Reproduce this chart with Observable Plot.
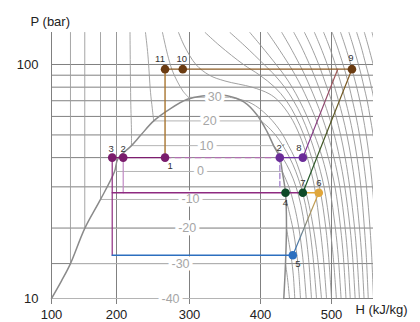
<!DOCTYPE html>
<html><head><meta charset="utf-8">
<script src="https://cdn.jsdelivr.net/npm/d3@7"></script>
<script src="https://cdn.jsdelivr.net/npm/@observablehq/plot@0.6"></script>
<style>
body{margin:0;background:#fff;}
#chart svg{display:block;}
#chart g[aria-label^="x-axis"] line, #chart g[aria-label^="x-axis"] path{stroke:#808080;}
</style></head><body><div id="chart"></div>
<script>
// ---- axes ----
const hTicks = [100, 200, 300, 400, 500];
const pTicks = [10, 100];
const hGrid = [100, 200, 300, 400, 500];
const pGrid = [10, 14.1, 20, 30, 40, 50, 60, 70, 80, 90, 100];

// ---- saturation dome [h, P] ----
const dome = [[100,10],[115.4,11.9],[129.2,14.1],[151.2,19.93],[175.4,26.5],[197,34.9],[202,39.6],[220.5,45],[233,49.8],[251,57.4],[274,64.8],[297,71],[318,73.4],[335,73.9],[353,73.6],[376.5,69.2],[395.4,60.7],[409.4,51.5],[418.5,45],[427.2,40],[430.6,34.9],[435.2,28.3],[436.6,20.5],[435.2,14.1],[432.8,10]];

// ---- two-phase isotherm segments ----
const tpTemp = ["30","20","10","0","-10","-20","-30","-40"];
const tpP    = [72.4, 57.4, 45, 34.9, 26.5, 19.93, 14.1, 10];
const tpHL   = [298.6, 251, 220.5, 200, 175.4, 151.2, 129.2, 100];
const tpHV   = [357, 400, 418.5, 430.6, 436, 436.6, 435.2, 432.8];
const tpLabelH = [335.6, 328.6, 323.9, 315.5, 301.4, 296.8, 287.7, 274];

// ---- liquid isotherms [h, P] ----
const liqM30 = [[129.2,137],[129.2,14.1]];
const liqM20 = [[151.2,137],[151.2,19.93]];
const liqM10 = [[175.4,137],[175.4,26.5]];
const liq0   = [[200,137],[200,34.9]];
const liq10  = [[218.5,137],[219.5,70],[220.5,52],[220.5,45]];
const liq20  = [[239.7,137],[243,110],[246.6,76],[249,65],[251,57.4]];
const liq30  = [[263,137],[270,110],[276,95],[283,85],[291,77],[298.6,72.4]];

// ---- vapour / supercritical isotherms [h, P] ----
const vM30 = [[435.2,14.1],[438.3,12],[440.8,10]];
const vM20 = [[436.6,19.93],[440.5,17],[443.3,15],[446.3,12.5],[448.3,10]];
const vM10 = [[436,26.5],[441,23],[445.5,20],[450.5,16],[453.8,13],[456.3,10]];
const v0   = [[430.6,34.9],[440,30],[447.5,25],[454,20],[459.5,15],[464.4,10]];
const v10  = [[418.5,45],[431,40],[441.5,35],[450,30],[457,25],[462.5,20],[467.5,15],[471.8,10]];
const v20  = [[400,57.4],[408,55],[421,50],[431.5,45],[441,40],[449.5,35],[457,30],[463.5,25],[469,20],[474,15],[478.9,10]];
const v30  = [[357,72.4],[378,70],[388,68],[398,65],[411,60],[422,55],[431.5,50],[439.5,45],[448,40],[455,35],[462,30],[468.5,25],[474.5,20],[480.3,15],[485.9,10]];
const v40  = [[285,137],[293,120],[309,100],[328,90],[350,85],[388,80],[412,75],[425,70],[442,60],[455,50],[466,40],[476,30],[484,20],[488.5,15],[493,10]];
const v50  = [[322,137],[343,120],[376,100],[399,90],[420,80],[436.5,70],[449.5,60],[461,50],[472,40],[483,30],[492,20],[496,15],[500,10]];
const v60  = [[357,137],[378,120],[405,100],[420,90],[434,80],[446.5,70],[458,60],[468.5,50],[479,40],[489.5,30],[498,20],[502.5,15],[507,10]];
const v70  = [[385,137],[401,120],[422,100],[433.5,90],[444.5,80],[455,70],[465.5,60],[476,50],[487,40],[497,30],[505.5,20],[509.7,15],[513.7,10]];
const v80  = [[410,137],[423,120],[440,100],[449,90],[458,80],[467,70],[476.5,60],[486,50],[495.5,40],[505,30],[513,20],[517,15],[520.7,10]];
const v90  = [[430,137],[441,120],[455,100],[462.5,90],[470,80],[478,70],[486.5,60],[495,50],[503.5,40],[512,30],[519.5,20],[523.3,15],[526.8,10]];
const v100 = [[447,137],[457,120],[469,100],[475.5,90],[482,80],[489,70],[496.5,60],[504,50],[511.5,40],[519,30],[526.5,20],[530.2,15],[533.8,10]];
const v110 = [[462,137],[471,120],[482,100],[487.5,90],[493.5,80],[500,70],[506.5,60],[513,50],[519.5,40],[526,30],[533,20],[536.5,15],[539.9,10]];
const v120 = [[476,137],[484,120],[494,100],[499,90],[504.5,80],[510,70],[516,60],[522,50],[528,40],[534,30],[540,20],[543.3,15],[546.5,10]];
const v130 = [[489,137],[496.5,120],[505.5,100],[510,90],[515,80],[520,70],[525.5,60],[531,50],[536.5,40],[542,30],[547,20],[549.8,15],[552.5,10]];
const v140 = [[501,137],[508,120],[516.5,100],[521,90],[525.5,80],[530,70],[535,60],[540,50],[545,40],[550,30],[555,20],[557.5,15],[560,10]];
const v150 = [[513,137],[519.5,120],[527.5,100],[531.5,90],[536,80],[540.5,70],[545,60],[549.5,50],[554,40],[558.5,30],[563,20]];
const v160 = [[525,137],[531,120],[538.5,100],[542.5,90],[546.5,80],[551,70],[555,60],[559.5,50],[564,40]];
const v170 = [[536,137],[542,120],[549,100],[553,90],[557,80],[561,70],[565,60]];
const v180 = [[547,137],[552.5,120],[559.5,100],[563,90]];
const v190 = [[558,137],[563,120],[568,105]];

// ---- cycle state points ----
const ptLabel = ["11","10","9","3","2","1","2´","8","4","7","6","5"];
const ptH     = [266.5, 290.8, 529.2, 193.4, 209.2, 266.5, 427.2, 459.6, 435.2, 459.6, 482.1, 445.5];
const ptP     = [95.5, 95.5, 95.5, 40, 40, 40, 40, 40, 28.3, 28.3, 28.3, 15.3];
const ptStage = ["high","high","high","flash","flash","flash","mid","mid","suction","suction","superheat","low"];

// ---- cycle paths [h, P] ----
const pathHigh      = [[266.5,95.5],[529.2,95.5]];
const pathThrottle1 = [[266.5,95.5],[266.5,40]];
const pathFlash     = [[193.4,40],[266.5,40]];
const pathFlashVap  = [[266.5,40],[427.2,40]];
const pathMid       = [[427.2,40],[459.6,40]];
const pathMidComp   = [[459.6,40],[508.9,95.5]];
const pathVapDrop   = [[427.2,40],[427.2,29.8]];
const pathLiq3      = [[193.4,40],[193.4,15.3]];
const pathLiq2      = [[209.2,40],[209.2,28.3]];
const pathEvapMid   = [[193.4,28.3],[459.6,28.3]];
const pathEvapLow   = [[193.4,15.3],[445.5,15.3]];
const pathComp1     = [[445.5,15.3],[482.1,28.3]];
const pathMix       = [[459.6,28.3],[482.1,28.3]];
const pathComp2     = [[459.6,28.3],[529.2,95.5]];

// ---------- build tables ----------
const toRows = (arrs) => arrs.flatMap((a, i) => a.map(([h, P]) => ({h, P, id: i})));
const vapRows = toRows([vM30, vM20, vM10, v0, v10, v20, v30, v40, v50, v60, v70, v80, v90, v100, v110, v120, v130, v140, v150, v160, v170, v180, v190]);
const liqRows = toRows([liqM30, liqM20, liqM10, liq0, liq10, liq20, liq30]);
const domeRows = dome.map(([h, P]) => ({h, P}));
const tpIdx = tpTemp.map((_, i) => i);
const ptIdx = ptLabel.map((_, i) => i);
const xy = (a) => a.map(([h, P]) => ({h, P}));

const stageColor = {high: "#6b3c12", flash: "#7a1c6c", mid: "#6a2c98", suction: "#0f4a28", superheat: "#e0a63a", low: "#2c6fbf"};
const labelOff = {"11":[-5,-10],"10":[-1,-10],"9":[-1,-11],"3":[-1,-9],"2":[0,-9],"1":[5,8],"2´":[1,-10],"8":[-4,-10],"4":[0,10],"7":[0,-10],"6":[0,-10],"5":[5,9]};

const cyc = (data, stroke, extra = {}) => Plot.line(xy(data), {x: "h", y: "P", stroke, strokeWidth: 1.4, ...extra});

const svg = Plot.plot({
  width: 420, height: 322,
  marginLeft: 51, marginRight: 47, marginTop: 32, marginBottom: 24,
  style: {fontFamily: "'Liberation Sans', Arial, Helvetica, sans-serif", fontSize: "13px", color: "#222", background: "#fff"},
  x: {type: "linear", domain: [100, 200, 300, 400, 500, 560], range: [51, 116, 189, 260, 331, 373],
      ticks: hTicks, tickSize: 6, tickPadding: 5, tickFormat: d => String(d), label: null},
  y: {type: "log", domain: [10, 137], range: [298, 32],
      ticks: pTicks, tickSize: 0, tickPadding: 13, tickFormat: d => String(d), label: null},
  marks: [
    Plot.ruleY(pGrid, {stroke: "#808080", strokeWidth: 1}),
    Plot.ruleX(hGrid, {y1: 10, y2: 137, stroke: "#808080", strokeWidth: 1}),
    Plot.ruleY(tpIdx, {y: i => tpP[i], x1: i => tpHL[i], x2: i => tpHV[i], stroke: "#b4b4b4", strokeWidth: 1}),
    Plot.line(liqRows, {x: "h", y: "P", z: "id", curve: "catmull-rom", stroke: "#9c9c9c", strokeWidth: 0.9, clip: true}),
    Plot.line(vapRows, {x: "h", y: "P", z: "id", curve: "catmull-rom", stroke: "#959595", strokeWidth: 0.9, clip: true}),
    Plot.line(domeRows, {x: "h", y: "P", curve: "catmull-rom", stroke: "#8a8a8a", strokeWidth: 1.5}),
    Plot.text(tpIdx, {x: i => tpLabelH[i], y: i => tpP[i], text: i => tpTemp[i], fill: "#a6a6a6", stroke: "#fff", strokeWidth: 7, fontSize: 12.5}),
    // cycle lines
    cyc(pathHigh, "#8a5a22"),
    cyc(pathThrottle1, "#a8742e"),
    cyc(pathLiq3, "#8e2c80", {strokeWidth: 1.2}),
    cyc(pathLiq2, "#c08ac4", {strokeWidth: 1.2}),
    cyc(pathEvapMid, "#8e2a80"),
    cyc(pathEvapLow, "#2c6fbf"),
    cyc(pathFlashVap, "#b46fb4", {strokeDasharray: "6,4"}),
    cyc(pathVapDrop, "#b497d6", {strokeDasharray: "5,3", strokeWidth: 1.6}),
    cyc(pathFlash, "#7d1d6f"),
    cyc(pathMid, "#6f2f9f"),
    cyc(pathMidComp, "url(#gVB)", {strokeWidth: 1.2}),
    cyc(pathComp1, "url(#gBG)", {strokeWidth: 1.2}),
    cyc(pathComp2, "url(#gGB)", {strokeWidth: 1.2}),
    cyc(pathMix, "#e0a63a"),
    Plot.dot(ptIdx, {x: i => ptH[i], y: i => ptP[i], r: 4.3, fill: i => stageColor[ptStage[i]], stroke: "none"}),
    ...ptIdx.map(i => Plot.text([i], {x: j => ptH[j], y: j => ptP[j], text: j => ptLabel[j], dx: labelOff[ptLabel[i]][0], dy: labelOff[ptLabel[i]][1], fontSize: 9.5, fill: "#333"})),
    Plot.text(["P (bar)"], {frameAnchor: "top-left", dx: -21, dy: -16, textAnchor: "start", fontSize: 13, fill: "#222"}),
    Plot.text(["H (kJ/kg)"], {frameAnchor: "bottom-right", dx: -18, dy: 15, textAnchor: "start", fontSize: 13, fill: "#222"})
  ]
});

// gradients for the slanted cycle lines
const ns = "http://www.w3.org/2000/svg";
const defs = document.createElementNS(ns, "defs");
function grad(id, c0, c1) {
  const g = document.createElementNS(ns, "linearGradient");
  g.setAttribute("id", id);
  g.setAttribute("x1", "0"); g.setAttribute("y1", "1"); g.setAttribute("x2", "1"); g.setAttribute("y2", "0");
  [[0, c0], [1, c1]].forEach(([o, c]) => {
    const s = document.createElementNS(ns, "stop");
    s.setAttribute("offset", o); s.setAttribute("stop-color", c);
    g.appendChild(s);
  });
  defs.appendChild(g);
}
grad("gVB", "#7a2c9c", "#a05a50");
grad("gBG", "#2c6fbf", "#e0a63a");
grad("gGB", "#14582a", "#8a5a22");
svg.insertBefore(defs, svg.firstChild);
document.getElementById("chart").appendChild(svg);
</script>
</body></html>
